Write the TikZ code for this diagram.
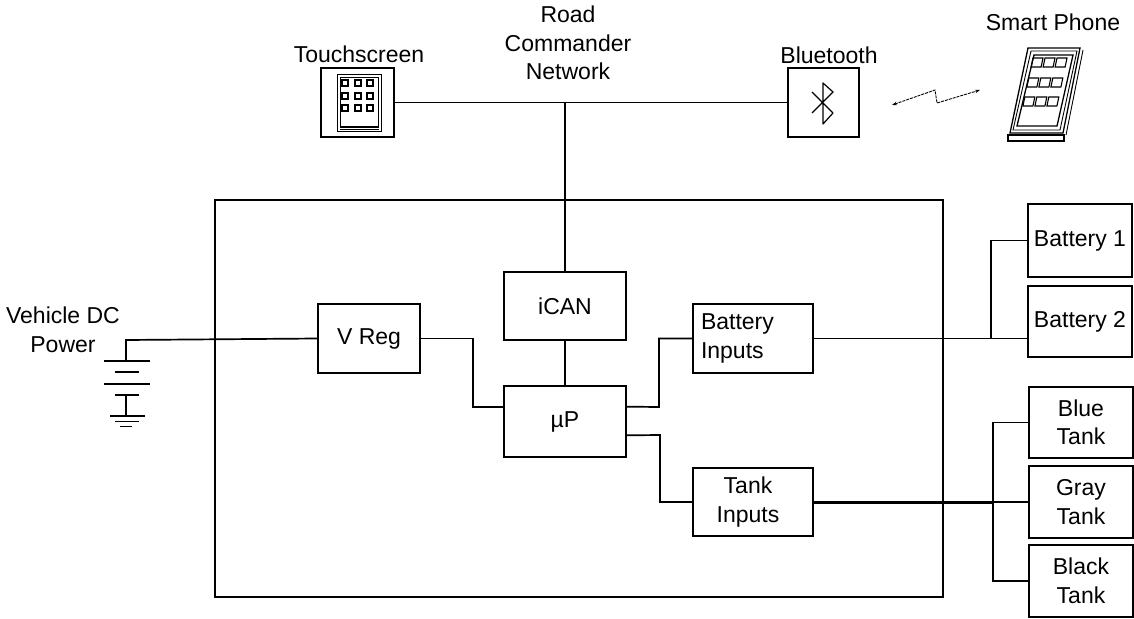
\documentclass[tikz,border=0pt]{standalone}
\usepackage{fontspec}
\setmainfont{Liberation Sans}
\usetikzlibrary{arrows.meta,calc}
\begin{document}
\begin{tikzpicture}[x=1pt,y=-1pt,
  every node/.style={font=\fontsize{23}{28.5}\selectfont},
  box/.style={draw, line width=1.7pt, inner sep=0pt, align=center},
  wire/.style={line width=1.7pt},
  thickwire/.style={line width=3pt},
  lbl/.style={inner sep=0pt, align=center},
  icon/.style={line width=1.3pt}]
\path[use as bounding box, fill=white] (0,0) rectangle (1134,618);

% main enclosure
\node[box, minimum width=728pt, minimum height=397pt] (main) at (579,398.5) {};

% top devices
\node[box, minimum width=73pt, minimum height=69pt] (ts) at (357.5,102.5) {};
\node[box, minimum width=71pt, minimum height=69pt] (bt) at (823.5,102.5) {};
\node[lbl] (tslbl) at (359,54) {Touchscreen};
\node[lbl] (btlbl) at (829,55) {Bluetooth};
\node[lbl] (netlbl) at (568,43) {Road\\Commander\\Network};
\node[lbl] (splbl) at (1053,22) {Smart Phone};

% inner blocks
\node[box, minimum width=122pt, minimum height=68pt] (ican) at (565,306) {iCAN};
\node[box, minimum width=122pt, minimum height=71pt] (mup) at (565,421.5) {µP};
\node[box, minimum width=102pt, minimum height=69pt] (vreg) at (369,338.5) {V Reg};
\node[box, minimum width=120pt, minimum height=69pt, text width=104pt, align=left] (binp) at (753,338.5) {Battery\\Inputs};
\node[box, minimum width=120pt, minimum height=68pt] (tinp) at (753,502) {\hspace*{-10pt}Tank\\\hspace*{-10pt}Inputs};

% right blocks
\node[box, minimum width=104pt, minimum height=73pt] (bat1) at (1080,240.5) {Battery 1};
\node[box, minimum width=104pt, minimum height=71pt] (bat2) at (1080,321.5) {Battery 2};
\node[box, minimum width=104pt, minimum height=71pt] (blue) at (1081,422.5) {Blue\\Tank};
\node[box, minimum width=104pt, minimum height=72pt] (gray) at (1081,502) {Gray\\Tank};
\node[box, minimum width=104pt, minimum height=72pt] (black) at (1081,581) {Black\\Tank};

\node[lbl] (vdc) at (63,330) {Vehicle DC\\Power};

% network
\draw[wire] (ts.east) -- (bt.west);
\draw[wire] (ican.north) -- (ican.north |- ts.east);
\draw[wire] (ican.south) -- (mup.north);

% power
\coordinate (dcp) at (126,340);
\draw[wire] (vreg.west) -- (dcp) -- ++(0,21);
\draw[wire] (104,361) -- (150,361);
\draw[wire] (115,372) -- (139,372);
\draw[wire] (104,384) -- (150,384);
\draw[wire] (115,395) -- (139,395);
\draw[wire] (126,395) -- (126,416);
\draw[wire] (110,416) -- (145,416);
\draw[wire] (115,421.5) -- (139,421.5);
\draw[wire] (120,426.5) -- (132,426.5);

% vreg -> mup
\coordinate (mupw) at ($(mup.north west)!0.296!(mup.south west)$);
\coordinate (mupe1) at ($(mup.north east)!0.296!(mup.south east)$);
\coordinate (mupe2) at ($(mup.north east)!0.69!(mup.south east)$);
\draw[wire] (vreg.east) -- (473,338.5) |- (mupw);
\draw[wire] (mupe1) -- (659,407) |- (binp.west);
\draw[wire] (mupe2) -- (660,435) |- (tinp.west);

% battery bus
\coordinate (bj) at (991,338.5);
\draw[wire] (binp.east) -- (bj);
\draw[wire] (bj) -- (bj |- bat1.west) -- (bat1.west);
\draw[wire] (bj) -- (bj -| bat2.west);

% tank bus
\coordinate (tj) at (993,502);
\draw[thickwire] (tinp.east) -- (tj);
\draw[wire] (tj) -- (gray.west);
\draw[wire] (blue.west) -- (blue.west -| tj) -- (black.west -| tj) -- (black.west);

% touchscreen icon
\draw[line width=1.8pt] (337.5,74.5) rectangle (381.5,131.5);
\draw[icon] (340.5,77.5) rectangle (378.5,127);
\draw[icon] (340,129.5) -- (379,129.5);
\foreach \cx in {342,355,367}{
  \foreach \cy in {80,93,105}{
    \draw[line width=1.1pt] (\cx,\cy) rectangle ++(6,6);
  }}

% bluetooth rune
\draw[line width=1.2pt, line join=round] (812,92) -- (833,113) -- (823,124) -- (823,83) -- (833,92) -- (812,113);

% wireless link
\draw[line width=0.9pt, dash pattern=on 3pt off 1pt, {Stealth[length=5pt,width=3.5pt]}-{Stealth[length=5pt,width=3.5pt]}]
  (892,105) -- (935,90) -- (937,103) -- (980,90);

% smart phone
\draw[icon] (1028,48) -- (1080,48) -- (1063,133) -- (1010,133) -- cycle;
\draw[line width=0.9pt] (1031,51) -- (1077,51) -- (1060,130) -- (1013,130) -- cycle;
\draw[line width=0.9pt] (1083,50) -- (1066,135);
\draw[icon] (1034,55) -- (1073,55) -- (1057,126) -- (1017,126) -- cycle;
\draw[icon] (1008,135) rectangle (1064,141);
\foreach \r/\ty in {0/58,1/78,2/97}{
  \foreach \c in {0,1,2}{
    \pgfmathsetmacro{\lx}{1033 + 12*\c - 0.21*(\ty-58)}
    \draw[line width=1.1pt] (\lx,\ty) -- ++(10,0) -- ++(-1.9,9) -- ++(-10,0) -- cycle;
  }}
\end{tikzpicture}
\end{document}
